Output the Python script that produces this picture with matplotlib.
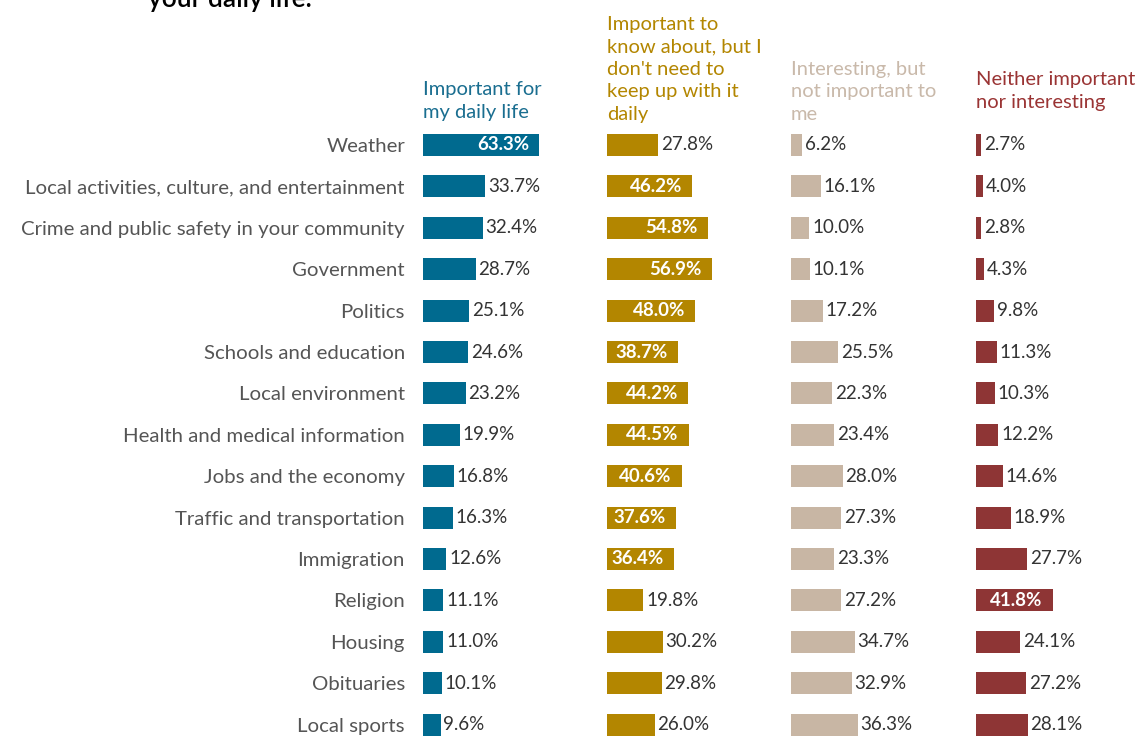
import matplotlib.pyplot as plt

topics = ["Weather", "Local activities, culture, and entertainment",
          "Crime and public safety in your community", "Government", "Politics",
          "Schools and education", "Local environment", "Health and medical information",
          "Jobs and the economy", "Traffic and transportation", "Immigration",
          "Religion", "Housing", "Obituaries", "Local sports"]

daily = [63.3, 33.7, 32.4, 28.7, 25.1, 24.6, 23.2, 19.9, 16.8, 16.3, 12.6, 11.1, 11.0, 10.1, 9.6]
know_about = [27.8, 46.2, 54.8, 56.9, 48.0, 38.7, 44.2, 44.5, 40.6, 37.6, 36.4, 19.8, 30.2, 29.8, 26.0]
interesting = [6.2, 16.1, 10.0, 10.1, 17.2, 25.5, 22.3, 23.4, 28.0, 27.3, 23.3, 27.2, 34.7, 32.9, 36.3]
neither = [2.7, 4.0, 2.8, 4.3, 9.8, 11.3, 10.3, 12.2, 14.6, 18.9, 27.7, 41.8, 24.1, 27.2, 28.1]

headers = ["Important for\nmy daily life",
           "Important to\nknow about, but I\ndon't need to\nkeep up with it\ndaily",
           "Interesting, but\nnot important to\nme",
           "Neither important\nnor interesting"]

series = [daily, know_about, interesting, neither]
bar_colors = ["#006a8f", "#b38600", "#c8b6a4", "#8e3535"]
head_colors = ["#1a6e90", "#b38600", "#c9b9aa", "#9a3434"]

# values at or above this get a white label inside the bar
inside_min = 36.4

plt.rcParams['font.family'] = ['Lato', 'DejaVu Sans']

W, H = 1136, 736
fig = plt.figure(figsize=(W / 100, H / 100), dpi=100)

col_left = [423, 607, 791, 976]
px_per_pct = 1.84
row0, row_step = 145, 41.4
top_px = 124
n = len(topics)
ylim = (n - 1 + (H - (row0 + row_step * (n - 1))) / row_step, -(row0 - top_px) / row_step)

axes = []
for k, vals in enumerate(series):
    ax = fig.add_axes([col_left[k] / W, 0, 100 * px_per_pct / W, (H - top_px) / H])
    ypos = list(range(n))
    ax.barh(ypos, vals, height=0.53, color=bar_colors[k])
    ax.set_xlim(0, 100)
    ax.set_ylim(*ylim)
    for y, v in zip(ypos, vals):
        if v >= inside_min:
            ax.text(v - 5.5, y, f"{v:.1f}%", ha='right', va='center',
                    color='white', fontsize=13.5, fontweight='bold')
        else:
            ax.text(v + 1.5, y, f"{v:.1f}%", ha='left', va='center',
                    color='#333333', fontsize=13.5)
    for s in ax.spines.values():
        s.set_visible(False)
    ax.set_xticks([])
    ax.set_yticks([])
    axes.append(ax)

axes[0].set_yticks(range(n))
axes[0].set_yticklabels(topics, fontsize=14.7, color='#555555')
axes[0].tick_params(axis='y', length=0, pad=13)

head_bottom = [121, 123, 123, 111]
for k in range(4):
    fig.text(col_left[k] / W, 1 - head_bottom[k] / H, headers[k], ha='left', va='bottom',
             color=head_colors[k], fontsize=14.5, linespacing=1.4)

fig.text(148 / W, 1 - 7 / H, "your daily life.", ha='left', va='baseline',
         fontsize=19, color='black', fontweight='semibold')

fig.savefig("out.png", dpi=100)
